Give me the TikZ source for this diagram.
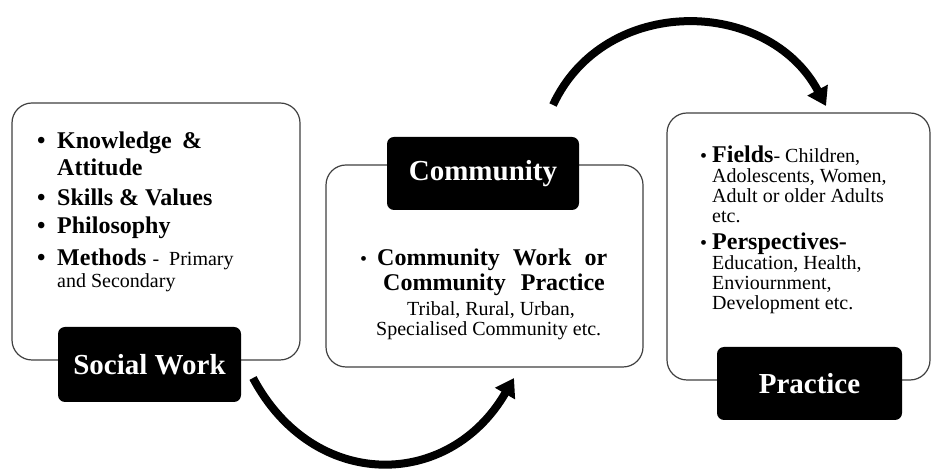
\documentclass[tikz,border=0pt]{standalone}
\usepackage{fontspec}
\setmainfont{Liberation Serif}
\usepackage{tikz}
\usetikzlibrary{arrows.meta}
\tikzstyle{panel}=[draw=black!75,line width=1.2pt,rounded corners=20pt,fill=white,inner sep=0pt]
\tikzstyle{tag}=[fill=black,rounded corners=7pt,text=white,inner sep=0pt,font=\fontsize{29}{32}\selectfont\bfseries]
\tikzstyle{body}=[inner sep=0pt,align=left,anchor=north west]
\tikzstyle{flow}=[draw,line width=8pt,-{Triangle[length=18pt,width=22pt]}]
\newcommand{\kw}[1]{{\bfseries\fontsize{24}{27}\selectfont #1}}
\newcommand{\rg}[1]{{\mdseries\fontsize{20}{20}\selectfont #1}}

\begin{document}
\begin{tikzpicture}[x=1pt,y=1pt]
    \useasboundingbox (0,0) rectangle (933,470);
    	% draw the panels
	    \foreach \pos/\name/\bw/\bh in {{(156,238.5)/socialbox/288/257},
    	                        {(484.5,204)/communitybox/317/202}, {(798.5,223.5)/practicebox/263/267}}
        \node[panel,minimum width=\bw pt,minimum height=\bh pt] (\name) at \pos {};
    	% black tags on the panels
	    \foreach \pos/\name/\bw/\bh/\txt in {{(149.5,105.5)/socialwork/183/75/Social Work},
    	                        {(483,296.5)/community/192/73/Community}, {(809.5,86.5)/practice/185/73/Practice}}
        \node[tag,minimum width=\bw pt,minimum height=\bh pt] (\name) at \pos {\txt};
    	% texts inside the panels
    	\node[body,font=\fontsize{24}{27}\selectfont\bfseries] (socialtext) at (37,338.6)
    	    {\makebox[20pt][l]{\textbullet}\makebox[145pt][s]{Knowledge \&}\\
    	     \hspace*{20pt}Attitude\\[3pt]
    	     \makebox[20pt][l]{\textbullet}Skills \& Values\\[1pt]
    	     \makebox[20pt][l]{\textbullet}Philosophy\\[5pt]
    	     \makebox[20pt][l]{\textbullet}Methods \rg{-\hspace{10pt}Primary}\\[-5pt]
    	     \hspace*{20pt}\rg{and Secondary}};
    	\node[body,font=\fontsize{20}{25}\selectfont] (communitytext) at (360,221.6)
    	    {\makebox[17pt][l]{\textbullet}\kw{Community\hspace{13pt}Work\hspace{13pt}or}\\
    	     \hspace*{23pt}\kw{Community\hspace{15pt}Practice}\\
    	     \hspace*{47pt}Tribal, Rural, Urban,\\[-5pt]
    	     \hspace*{16pt}Specialised Community etc.};
    	\node[body,font=\fontsize{20}{20}\selectfont] (practicetext) at (700,324.6)
    	    {\makebox[12pt][l]{\textbullet}\kw{Fields}- Children,\\
    	     \hspace*{12pt}Adolescents, Women,\\
    	     \hspace*{12pt}Adult or older Adults\\
    	     \hspace*{12pt}etc.\\[7pt]
    	     \makebox[12pt][l]{\textbullet}\kw{Perspectives-}\\
    	     \hspace*{12pt}Education, Health,\\
    	     \hspace*{12pt}Enviournment,\\
    	     \hspace*{12pt}Development etc.};
    	% the two curved arrows
    	\coordinate (lowfrom) at (253,92);
    	\coordinate (lowto) at (514,92);
    	\coordinate (topfrom) at (553,365);
    	\coordinate (topto) at (826,364);
    	\path[flow] (lowfrom) to[out=-62,in=-120,looseness=1.27] (lowto);
    	\path[flow] (topfrom) to[out=65,in=118,looseness=1.15] (topto);
\end{tikzpicture}
\end{document}
